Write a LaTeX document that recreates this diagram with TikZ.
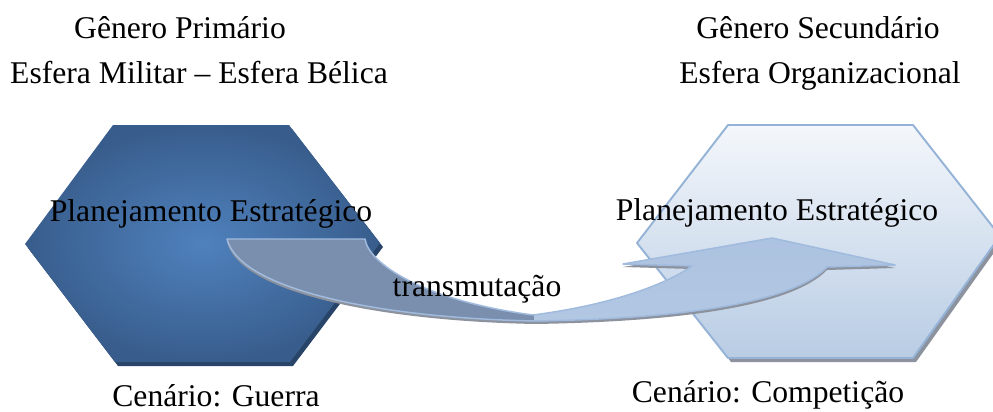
\documentclass[tikz,border=0pt]{standalone}
\usepackage{fontspec}
\setmainfont{Liberation Serif}
\usepackage{tikz}
\usetikzlibrary{calc}
\definecolor{hexdark}{RGB}{56,93,140}
\definecolor{hexmid}{RGB}{79,129,189}
\definecolor{hexside}{RGB}{40,68,104}
\definecolor{hextop}{RGB}{244,247,251}
\definecolor{hexlight}{RGB}{184,204,228}
\definecolor{hexline}{RGB}{149,179,215}
\definecolor{arrowgray}{RGB}{122,143,173}
\definecolor{arrowtop}{RGB}{172,195,225}
\definecolor{arrowmid}{RGB}{234,240,247}
\definecolor{arrowbot}{RGB}{178,199,226}
\definecolor{arrowline}{RGB}{160,187,222}
\definecolor{hatch}{RGB}{140,146,158}
\newcommand{\transpath}{(227,239) -- (365,239) .. controls (368,262) and (420,300) .. (533,315) .. controls (610,305) and (665,285) .. (692,266) -- (623,264) -- (772,238) -- (895,265) -- (827,267) .. controls (800,295) and (720,318) .. (535,321) .. controls (380,318) and (240,290) .. (227,239) -- cycle}

\begin{document}
\begin{tikzpicture}[line cap=round,line join=round,x=0.02cm,y=-0.02cm,
    lbl/.style={font=\fontsize{18}{21}\selectfont,inner sep=0pt,anchor=base}]
                \useasboundingbox (0,0) rectangle (993,412);
                \fill [hexside] (28,248)-- (116,129)-- (292,129)-- (383,247)-- (293,366)-- (118,366)-- cycle;
                \shade [inner color=hexmid,outer color=hexdark] (25,244)-- (113,125)-- (289,125)-- (380,243)-- (290,362)-- (115,362)-- cycle;
                \fill [hatch] (640,247)-- (731,129)-- (916,129)-- (1003,240)-- (916,362)-- (731,362)-- cycle;
                \shadedraw [top color=hextop,bottom color=hexlight,draw=hexline,line width=1.1pt] (637,243)-- (728,125)-- (913,125)-- (1000,236)-- (913,358)-- (728,358)-- cycle;
                \fill [hatch,shift={(0,3)}] \transpath;
                \begin{scope}
                    \clip (0,0) rectangle (534,412);
                    \fill [arrowgray] \transpath;
                \end{scope}
                \begin{scope}
                    \clip \transpath;
                    \clip (534,0) rectangle (993,412);
                    \shade [top color=arrowtop,middle color=arrowmid,bottom color=arrowbot] (534,236) rectangle (900,324);
                \end{scope}
                \draw [arrowline,line width=0.85pt] \transpath;
                \node [lbl] (genprim) at (180,39) {Gênero Primário};
                \node [lbl] (esfmil) at (199,84) {Esfera Militar – Esfera Bélica};
                \node [lbl] (gensec) at (818,39) {Gênero Secundário};
                \node [lbl] (esforg) at (820,84) {Esfera Organizacional};
                \node [lbl] (planprim) at (211,221) {Planejamento Estratégico};
                \node [lbl] (plansec) at (777,220) {Planejamento Estratégico};
                \node [lbl] (transm) at (477,296) {transmutação};
                \node [lbl] (cenguerra) at (216,406) {Cenário: Guerra};
                \node [lbl] (cencomp) at (768,402) {Cenário: Competição};
\end{tikzpicture}
\end{document}
